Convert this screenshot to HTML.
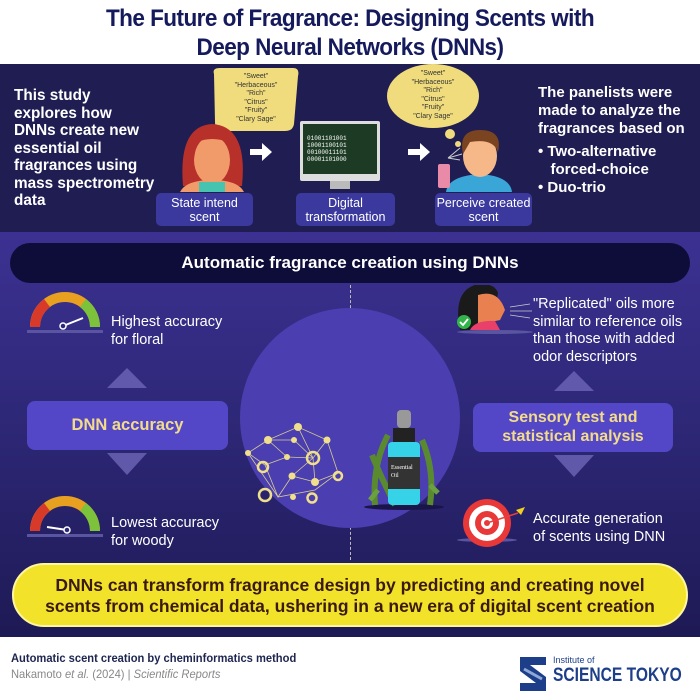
<!DOCTYPE html>
<html><head><meta charset="utf-8"><style>
*{margin:0;padding:0;box-sizing:border-box}
body{width:700px;height:700px;position:relative;overflow:hidden;background:#fff;font-family:"Liberation Sans",sans-serif}
.a{position:absolute}
.title{left:0;width:700px;top:4px;text-align:center;color:#151a5c;font-weight:bold;font-size:24.5px;line-height:29px;letter-spacing:-0.6px;transform:scaleX(0.92)}
.top{left:0;top:64px;width:700px;height:170px;background:#1f1d52}
.mid{left:0;top:232px;width:700px;height:405px;background:linear-gradient(#3c3192 0%,#2e2878 45%,#1e1a55 100%)}
.wt{color:#fff;font-weight:bold}
.lbl{background:#3b399e;color:#fff;font-size:12.5px;line-height:14px;text-align:center;border-radius:5px;padding-top:3px;height:33px}
.q{font-size:7px;line-height:8.5px;text-align:center;color:#333}
.box{background:#5447c7;border-radius:8px;color:#f2dc8a;font-weight:bold;text-align:center}
.t14{color:#fff;font-size:14.5px;line-height:17.5px}
</style></head><body>
<div class="a title">The Future of Fragrance: Designing Scents with<br>Deep Neural Networks (DNNs)</div>
<div class="a top"></div>
<div class="a mid"></div>

<!-- top content -->
<div class="a wt" style="left:14px;top:87px;font-size:15.3px;line-height:17.5px">This study<br>explores how<br>DNNs create new<br>essential oil<br>fragrances using<br>mass spectrometry<br>data</div>
<div class="a wt" style="left:538px;top:84px;font-size:15px;line-height:18px">The panelists were<br>made to analyze the<br>fragrances based on</div>
<div class="a wt" style="left:538px;top:143px;font-size:15px;line-height:18px">• Two-alternative<br>&nbsp;&nbsp;&nbsp;forced-choice<br>• Duo-trio</div>

<svg class="a" style="left:150px;top:64px" width="390" height="170">
 <!-- speech bubble -->
 <path d="M64 10 Q62 4 70 4 L143 4 Q150 4 148 12 L144 60 Q143 67 135 67 L80 67 L70 80 L72 67 Q65 66 65 58 Z" fill="#f0dc7c"/>
 <!-- woman -->
 <path d="M33 122 Q28 62 62 60 Q98 62 92 122 Z" fill="#b8302a"/>
 <ellipse cx="62" cy="96" rx="18" ry="24" fill="#f19a6a"/>
 <path d="M44 94 Q42 66 62 66 Q82 66 80 94 L78 78 Q62 72 47 78Z" fill="#b8302a"/>
 <path d="M30 128 Q36 116 62 116 Q88 116 94 128 Z" fill="#f19a6a"/>
 <rect x="49" y="118" width="26" height="10" fill="#47c4b0"/>
 <!-- arrows -->
 <path d="M100 85 h12 v-6 l10 9 l-10 9 v-6 h-12z" fill="#fff"/>
 <path d="M258 85 h12 v-6 l10 9 l-10 9 v-6 h-12z" fill="#fff"/>
 <!-- monitor -->
 <rect x="150" y="57" width="80" height="60" rx="2" fill="#ddd"/>
 <rect x="153" y="60" width="74" height="50" fill="#1c3a24"/>
 <text x="157" y="76" font-size="6" fill="#fff" font-family="Liberation Mono">01001101001</text>
 <text x="157" y="83" font-size="6" fill="#fff" font-family="Liberation Mono">10001100101</text>
 <text x="157" y="90" font-size="6" fill="#fff" font-family="Liberation Mono">00100011101</text>
 <text x="157" y="97" font-size="6" fill="#fff" font-family="Liberation Mono">00001101000</text>
 <rect x="180" y="117" width="20" height="8" fill="#bbb"/>
 <!-- thought bubble -->
 <ellipse cx="283" cy="32" rx="46" ry="32" fill="#f0dc7c"/>
 <circle cx="300" cy="70" r="5" fill="#f0dc7c"/><circle cx="308" cy="80" r="3" fill="#f0dc7c"/>
 <!-- man -->
 <path d="M296 128 Q298 112 330 110 Q360 112 362 128Z" fill="#3aa6d8"/>
 <ellipse cx="330" cy="92" rx="17" ry="21" fill="#f6b888"/>
 <path d="M313 90 Q308 66 330 66 Q353 66 348 88 Q343 74 320 78Z" fill="#7a4420"/>
 <rect x="288" y="100" width="12" height="24" rx="2" fill="#e88aa8"/>
 <path d="M298 94 l12 -10 M298 94 l14 -4 M298 94 l12 2" stroke="#ccc" stroke-width="1"/>
</svg>
<div class="a q" style="left:214px;top:73px;width:84px">"Sweet"<br>"Herbaceous"<br>"Rich"<br>"Citrus"<br>"Fruity"<br>"Clary Sage"</div>
<div class="a q" style="left:391px;top:70px;width:84px">"Sweet"<br>"Herbaceous"<br>"Rich"<br>"Citrus"<br>"Fruity"<br>"Clary Sage"</div>
<div class="a lbl" style="left:156px;top:193px;width:97px">State intend<br>scent</div>
<div class="a lbl" style="left:296px;top:193px;width:99px">Digital<br>transformation</div>
<div class="a lbl" style="left:435px;top:193px;width:97px">Perceive created<br>scent</div>

<!-- middle -->
<div class="a wt" style="left:10px;top:243px;width:680px;height:40px;background:#0e0c38;border-radius:20px;text-align:center;font-size:17px;line-height:40px">Automatic fragrance creation using DNNs</div>
<div class="a" style="left:350px;top:285px;height:275px;border-left:1px dashed #bbb"></div>
<div class="a" style="left:240px;top:308px;width:220px;height:220px;border-radius:50%;background:#4a3eb0"></div>

<svg class="a" style="left:0;top:285px" width="700" height="280">
 <g transform="translate(65,42)">
  <path d="M-30 0 A30 30 0 0 1 30 0" fill="none" stroke="#e8a020" stroke-width="10"/>
  <path d="M-30 0 A30 30 0 0 1 -18 -24" fill="none" stroke="#d83a2a" stroke-width="10"/>
  <path d="M18 -24 A30 30 0 0 1 30 0" fill="none" stroke="#7cc23a" stroke-width="10"/>
  <rect x="-38" y="3" width="76" height="3" fill="#5a55a0"/>
  <line x1="-2" y1="-1" x2="18" y2="-9" stroke="#fff" stroke-width="2"/><circle cx="-2" cy="-1" r="3" fill="#2e2878" stroke="#fff" stroke-width="1.5"/>
 </g>
 <g transform="translate(65,246)">
  <path d="M-30 0 A30 30 0 0 1 30 0" fill="none" stroke="#e8a020" stroke-width="10"/>
  <path d="M-30 0 A30 30 0 0 1 -18 -24" fill="none" stroke="#d83a2a" stroke-width="10"/>
  <path d="M18 -24 A30 30 0 0 1 30 0" fill="none" stroke="#7cc23a" stroke-width="10"/>
  <rect x="-38" y="3" width="76" height="3" fill="#5a55a0"/>
  <line x1="2" y1="-1" x2="-18" y2="-4" stroke="#fff" stroke-width="2"/><circle cx="2" cy="-1" r="3" fill="#2e2878" stroke="#fff" stroke-width="1.5"/>
 </g>
 <path d="M127 83 l20 20 h-40z" fill="#6e66b8" opacity="0.8"/>
 <path d="M107 168 h40 l-20 22z" fill="#6e66b8" opacity="0.8"/>
 <path d="M574 86 l20 20 h-40z" fill="#6e66b8" opacity="0.8"/>
 <path d="M554 170 h40 l-20 22z" fill="#6e66b8" opacity="0.8"/>
 <g stroke="#d8cc90" stroke-width="0.8" fill="none">
  <path d="M248 168 L268 155 L298 142 L327 155 L338 188 L315 205 L278 212 L265 180 Z M268 155 L287 172 L313 173 L298 142 M294 155 L313 173 L315 197 L292 191 L278 212 M287 172 L265 180 M248 168 L278 212 M292 191 L313 173 M327 155 L313 173 M294 155 L268 155 M338 188 L315 197"/>
 </g>
 <g fill="#f0e08c">
  <circle cx="298" cy="142" r="4"/><circle cx="268" cy="155" r="4"/><circle cx="294" cy="155" r="3"/><circle cx="327" cy="155" r="3.5"/>
  <circle cx="248" cy="168" r="3"/><circle cx="287" cy="172" r="3"/><circle cx="292" cy="191" r="3.5"/><circle cx="315" cy="197" r="4"/><circle cx="293" cy="212" r="3"/>
 </g>
 <g fill="none" stroke="#f0e08c" stroke-width="2.5">
  <circle cx="263" cy="182" r="5"/><circle cx="313" cy="173" r="6"/><circle cx="338" cy="191" r="4"/><circle cx="265" cy="210" r="6"/><circle cx="312" cy="213" r="4.5"/>
 </g>
 <ellipse cx="404" cy="222" rx="40" ry="3" fill="#1a1448"/>
 <path d="M375 220 Q372 180 388 150 M430 220 Q435 185 422 155 M395 220 Q380 190 372 170" stroke="#5a8a30" stroke-width="6" fill="none"/>
 <rect x="397" y="125" width="14" height="18" rx="4" fill="#999"/>
 <rect x="393" y="143" width="22" height="14" fill="#222"/>
 <rect x="388" y="157" width="32" height="63" rx="4" fill="#35d2e8"/>
 <rect x="388" y="172" width="32" height="32" fill="#333"/>
 <text x="391" y="184" font-size="6" fill="#fff" font-family="Liberation Serif">Essential</text>
 <text x="391" y="192" font-size="6" fill="#fff" font-family="Liberation Serif">Oil</text>
 <path d="M378 205 l-8 10 M430 200 l8 8" stroke="#6aa040" stroke-width="5"/>
 <ellipse cx="495" cy="47" rx="38" ry="2" fill="#5a55a0"/>
 <path d="M460 45 Q452 5 478 -1 Q495 -2 498 8 L490 45Z" fill="#1a1a1a"/>
 <path d="M478 10 Q498 4 505 25 L500 35 L478 40Z" fill="#e98050"/>
 <path d="M470 45 Q475 35 495 36 L500 45Z" fill="#e8406a"/>
 <circle cx="464" cy="37" r="7" fill="#32b44a"/><path d="M460 37 l3 3 l5 -6" stroke="#fff" stroke-width="1.8" fill="none"/>
 <path d="M510 22 l20 -3 M510 26 l22 0 M510 30 l20 3" stroke="#ccc" stroke-width="0.8"/>
 <ellipse cx="487" cy="255" rx="30" ry="2" fill="#5a55a0"/>
 <circle cx="487" cy="238" r="24" fill="#e83838"/><circle cx="487" cy="238" r="18" fill="#fff"/><circle cx="487" cy="238" r="12" fill="#e83838"/><circle cx="487" cy="238" r="6" fill="#fff"/><circle cx="487" cy="238" r="3" fill="#e83838"/>
 <line x1="487" y1="238" x2="518" y2="228" stroke="#e84040" stroke-width="1.5"/><path d="M516 225 l9 -3 l-4 8z" fill="#f0d020"/>
</svg>

<div class="a t14" style="left:111px;top:314px">Highest accuracy<br>for floral</div>
<div class="a t14" style="left:111px;top:515px">Lowest accuracy<br>for woody</div>
<div class="a t14" style="left:533px;top:296px">"Replicated" oils more<br>similar to reference oils<br>than those with added<br>odor descriptors</div>
<div class="a t14" style="left:533px;top:511px">Accurate generation<br>of scents using DNN</div>
<div class="a box" style="left:27px;top:401px;width:201px;height:49px;font-size:16.5px;line-height:49px">DNN accuracy</div>
<div class="a box" style="left:473px;top:403px;width:200px;height:49px;font-size:16px;line-height:18.5px;padding-top:6px">Sensory test and<br>statistical analysis</div>

<div class="a" style="left:12px;top:563px;width:676px;height:64px;background:#f2e32a;border-radius:32px;border:2px solid #fff6a0;text-align:center;color:#3a1a10;font-weight:bold;font-size:17.5px;line-height:21px;padding-top:10px">DNNs can transform fragrance design by predicting and creating novel<br>scents from chemical data, ushering in a new era of digital scent creation</div>

<div class="a" style="left:0;top:637px;width:700px;height:63px;background:#fff"></div>
<div class="a" style="left:11px;top:651px;font-size:12px;color:#1d2550;font-weight:bold;transform:scaleX(0.93);transform-origin:left;white-space:nowrap">Automatic scent creation by cheminformatics method</div>
<div class="a" style="left:11px;top:667px;font-size:12px;color:#888;transform:scaleX(0.93);transform-origin:left;white-space:nowrap">Nakamoto <i>et al.</i> (2024) | <i>Scientific Reports</i></div>
<svg class="a" style="left:518px;top:655px" width="30" height="38"><path d="M2 2 h26 v8 h-16 l16 12 v14 h-26 v-8 h16 l-16 -12z" fill="#1d3f8a"/><path d="M6 14 l18 10" stroke="#8ea8d8" stroke-width="3"/></svg>
<div class="a" style="left:553px;top:655px;font-size:9px;color:#1d3f8a;white-space:nowrap">Institute of</div>
<div class="a" style="left:553px;top:665px;font-size:19px;font-weight:bold;color:#1d3f8a;transform:scaleX(0.82);transform-origin:left;white-space:nowrap">SCIENCE TOKYO</div>
</body></html>
